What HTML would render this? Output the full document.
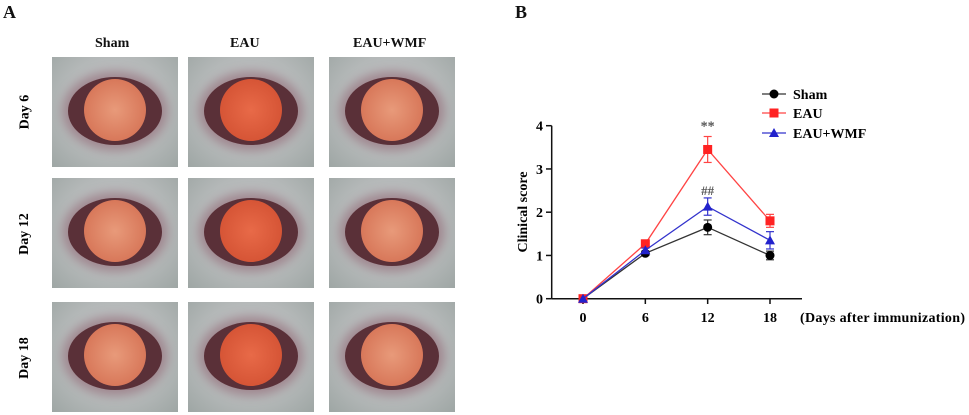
<!DOCTYPE html>
<html><head><meta charset="utf-8"><style>
body{margin:0;width:969px;height:415px;background:#fff;overflow:hidden;position:relative;font-family:"Liberation Serif",serif;font-weight:bold}
.t{position:absolute;font-size:14px;color:#111}
.ph{position:absolute;width:126px;height:110px;background:radial-gradient(ellipse at 50% 45%,#c9c7cc 0%,#b4b8b8 60%,#9ea6a4 100%);overflow:hidden}
.lid{position:absolute;left:16px;top:20px;width:94px;height:68px;border-radius:50%;background:#5a3038;box-shadow:0 0 10px 6px #a08890}
.pu{position:absolute;left:32px;top:22px;width:62px;height:62px;border-radius:50%;background:radial-gradient(circle,#e89a7a 0%,#d8785a 70%,#b85a40 100%)}
.eau .pu{background:radial-gradient(circle,#e86a48 0%,#d65536 70%,#b04028 100%)}
.rl{position:absolute;font-size:14px;transform:rotate(-90deg);transform-origin:center;white-space:nowrap}
</style></head><body>
<div class="t" style="left:3px;top:2px;font-size:18px">A</div>
<div class="t" style="left:515px;top:2px;font-size:18px">B</div>
<div class="t" style="left:95px;top:36px">Sham</div>
<div class="t" style="left:230px;top:36px">EAU</div>
<div class="t" style="left:353px;top:36px">EAU+WMF</div>
<div class="rl" style="left:8px;top:104px">Day 6</div>
<div class="rl" style="left:4px;top:226px">Day 12</div>
<div class="rl" style="left:4px;top:350px">Day 18</div>
<div id="photos"></div>
<svg id="chart" width="969" height="415" style="position:absolute;left:0;top:0"></svg>
<script>
const cols=[52,188,329], rows=[57,178,302];
const ph=document.getElementById('photos');
rows.forEach((y,r)=>cols.forEach((x,c)=>{
 const d=document.createElement('div');d.className='ph'+(c==1?' eau':'');
 d.style.left=x+'px';d.style.top=y+'px';
 
 
 d.innerHTML='<div class="lid"></div><div class="pu"></div>';ph.appendChild(d);}));

const days=[0,6,12,18];
const sham=[0,1.05,1.65,1.0], shamErr=[0,0.05,0.17,0.1];
const eau=[0,1.27,3.45,1.8], eauErr=[0,0.05,0.3,0.15];
const wmf=[0,1.12,2.13,1.35], wmfErr=[0,0.05,0.2,0.2];
const yTicks=[0,1,2,3,4];
const X=d=>583+d*(770-583)/18, Y=v=>298.7-v*43.25;
const S=document.getElementById('chart'),NS='http://www.w3.org/2000/svg';
function el(t,a,n){const e=document.createElementNS(NS,t);for(const k in a)e.setAttribute(k,a[k]);S.appendChild(e);return e;}
let e;
e=el('line',{x1:551.7,y1:125.7,x2:551.7,y2:298.7,stroke:'#111','stroke-width':1.5});
e=el('line',{x1:551.7,y1:298.7,x2:802,y2:298.7,stroke:'#111','stroke-width':1.5});
yTicks.forEach(v=>{el('line',{x1:546,y1:Y(v),x2:551.7,y2:Y(v),stroke:'#111','stroke-width':1.5});
 e=el('text',{x:543,y:Y(v)+5,'text-anchor':'end','font-size':14,'font-weight':'bold','font-family':'Liberation Serif'});e.textContent=v;});
days.forEach(d=>{el('line',{x1:X(d),y1:298.7,x2:X(d),y2:304,stroke:'#111','stroke-width':1.5});
 e=el('text',{x:X(d),y:322,'text-anchor':'middle','font-size':14,'font-weight':'bold','font-family':'Liberation Serif'});e.textContent=d;});
e=el('text',{x:800,y:322,'font-size':14,'font-weight':'bold','font-family':'Liberation Serif',textLength:165});e.textContent='(Days after immunization)';
e=el('text',{x:0,y:0,'font-size':14,'font-weight':'bold','font-family':'Liberation Serif','text-anchor':'middle',transform:'translate(527,212) rotate(-90)'});e.textContent='Clinical score';
function marker(x,y,c,shape){
 if(shape=='c')return el('circle',{cx:x,cy:y,r:4.5,fill:c});
 if(shape=='s')return el('rect',{x:x-4.5,y:y-4.5,width:9,height:9,fill:c});
 return el('polygon',{points:`${x},${y-5} ${x-5},${y+4} ${x+5},${y+4}`,fill:c});}
const series=[[sham,shamErr,'#333','#000','c','sham'],[eau,eauErr,'#f44','#f22','s','eau'],[wmf,wmfErr,'#33c','#22c','t','eau-wmf']];
series.forEach(([v,er,lc,mc,sh,nm])=>{
 e=el('polyline',{points:days.map((d,i)=>X(d)+','+Y(v[i])).join(' '),fill:'none',stroke:lc,'stroke-width':1.3});
 days.forEach((d,i)=>{if(er[i]>0){el('line',{x1:X(d),y1:Y(v[i]-er[i]),x2:X(d),y2:Y(v[i]+er[i]),stroke:lc,'stroke-width':1.2});
  [v[i]-er[i],v[i]+er[i]].forEach(q=>el('line',{x1:X(d)-4,y1:Y(q),x2:X(d)+4,y2:Y(q),stroke:lc,'stroke-width':1.2}));}
  e=marker(X(d),Y(v[i]),mc,sh);});
});
e=el('text',{x:X(12),y:Y(3.45+0.3)-6,'text-anchor':'middle','font-size':14,fill:'#555','font-family':'Liberation Serif'});e.textContent='**';
e=el('text',{x:X(12),y:Y(2.13+0.2)-3,'text-anchor':'middle','font-size':13,fill:'#555','font-family':'Liberation Serif'});e.textContent='##';
const leg=[['Sham','#333','#000','c',94],['EAU','#f44','#f22','s',113],['EAU+WMF','#33c','#22c','t',133]];
leg.forEach(([t,lc,mc,sh,y])=>{el('line',{x1:762,y1:y,x2:786,y2:y,stroke:lc,'stroke-width':1.3});marker(774,y,mc,sh);
 e=el('text',{x:793,y:y+5,'font-size':14,'font-weight':'bold','font-family':'Liberation Serif'});e.textContent=t;});
</script>
</body></html>
